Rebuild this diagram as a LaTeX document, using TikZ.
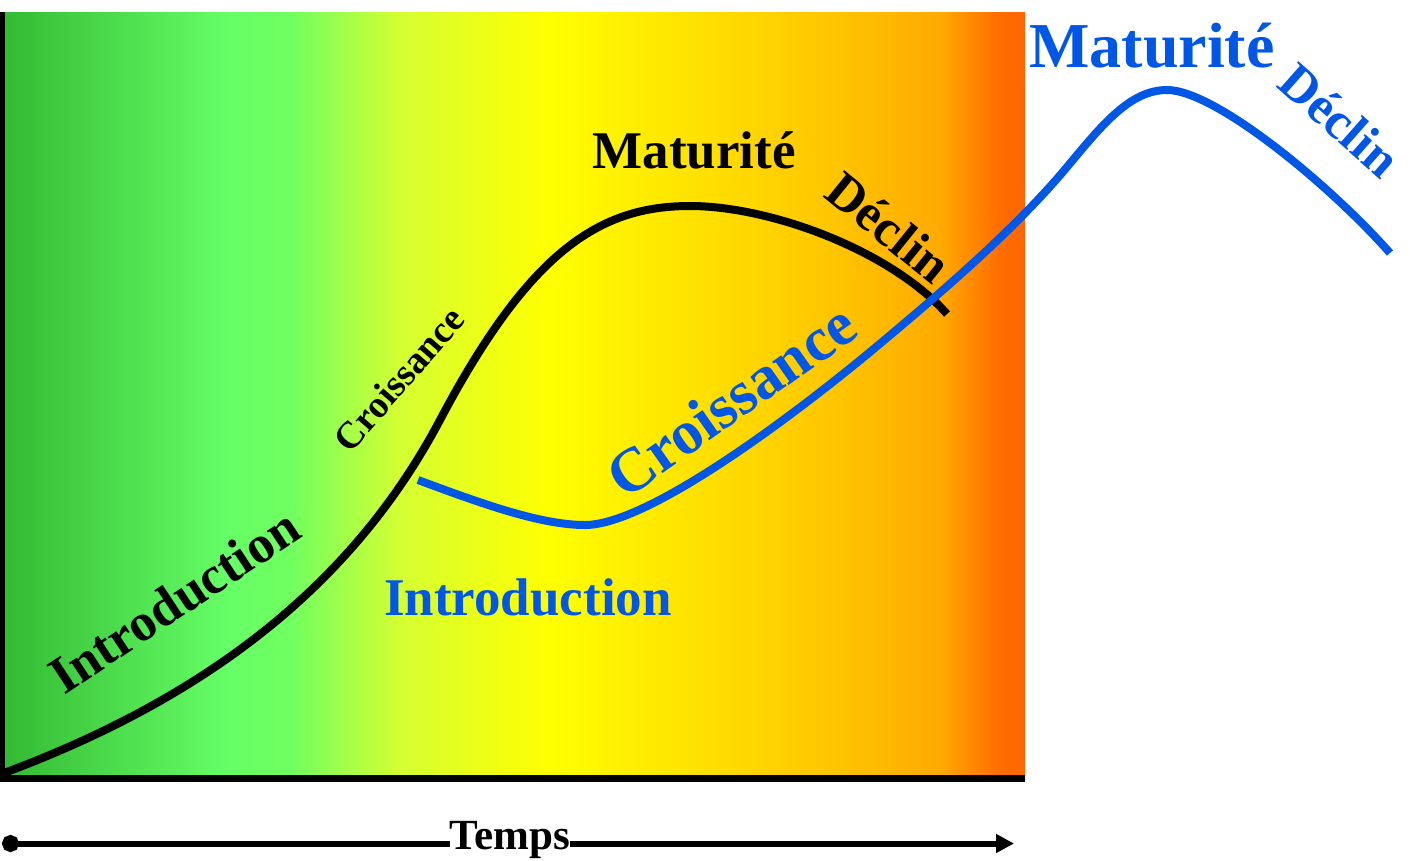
\documentclass[tikz,border=0pt]{standalone}
\usepackage{fontspec}
\setmainfont{Liberation Serif}
\usetikzlibrary{arrows.meta}
\definecolor{c0}{RGB}{50,185,50}
\definecolor{c1}{RGB}{102,255,102}
\definecolor{c2}{RGB}{112,255,96}
\definecolor{c3}{RGB}{212,255,50}
\definecolor{c4}{RGB}{255,255,0}
\definecolor{c5}{RGB}{255,200,0}
\definecolor{c6}{RGB}{255,170,0}
\definecolor{c7}{RGB}{255,108,0}
\definecolor{c8}{RGB}{255,102,0}
\definecolor{cblue}{RGB}{0,87,230}
\pgfdeclarehorizontalshading{bgshade}{100bp}{color(0bp)=(c0); color(25bp)=(c0); color(36.22bp)=(c1); color(39.15bp)=(c2); color(44.51bp)=(c3); color(51.83bp)=(c4); color(65bp)=(c5); color(70.85bp)=(c6); color(73.78bp)=(c7); color(75bp)=(c8); color(100bp)=(c8)}
\tikzset{
  lbl/.style={inner sep=0pt, font=\bfseries\fontsize{#1}{#1}\selectfont},
  blacklbl/.style={lbl=#1, text=black},
  bluelbl/.style={lbl=#1, text=cblue},
  curveblack/.style={draw=black, line width=8pt},
  curveblue/.style={draw=cblue, line width=8pt},
  timeline/.style={draw=black, line width=6pt},
}
\begin{document}
\begin{tikzpicture}[x=1pt,y=-1pt]
\useasboundingbox (0,0) rectangle (1410,860);
% background gradient
\path[shading=bgshade] (0,12) rectangle (1025,778);
% axes
\draw[line width=5pt] (2,12) -- (2,781);
\draw[line width=7pt] (0,778) -- (1025,778);
% black curve
\draw[curveblack] (4,773) .. controls (200,700) and (350,590) .. (440,420)
  .. controls (530,250) and (600,206) .. (690,206)
  .. controls (770,206) and (890,250) .. (947,314);
% blue curve
\draw[curveblue] (418,480) .. controls (480,503) and (540,525) .. (585,525)
  .. controls (650,525) and (800,410) .. (870,352)
  .. controls (930,302) and (1012,233) .. (1067,167)
  .. controls (1102,125) and (1130,90) .. (1167,90)
  .. controls (1215,90) and (1330,185) .. (1390,253);
% black labels
\node[blacklbl=53, rotate=33.5] (bintro) at (174,601) {Introduction};
\node[blacklbl=38, rotate=48.8] (bcrois) at (399,379) {Croissance};
\node[blacklbl=53, anchor=base] (bmat) at (694,168) {Maturité};
\node[blacklbl=52, rotate=-39] (bdecl) at (889,227) {Déclin};
% blue labels
\node[bluelbl=53, anchor=base] (lintro) at (528,615) {Introduction};
\node[bluelbl=62, rotate=35] (lcrois) at (731,400) {Croissance};
\node[bluelbl=64, anchor=base] (lmat) at (1152,67) {Maturité};
\node[bluelbl=52, rotate=-41.5] (ldecl) at (1340,120) {Déclin};
% time axis
\node[blacklbl=43, anchor=base] (temps) at (510,849) {Temps};
\coordinate (tstart) at (2,843.5);
\coordinate (tend) at (1014,843.5);
\draw[timeline, {Circle[length=17pt]}-] (tstart) -- (temps.west |- tstart);
\draw[timeline, -{Triangle[length=18pt,width=18pt]}] (temps.east |- tend) -- (tend);
\end{tikzpicture}
\end{document}
